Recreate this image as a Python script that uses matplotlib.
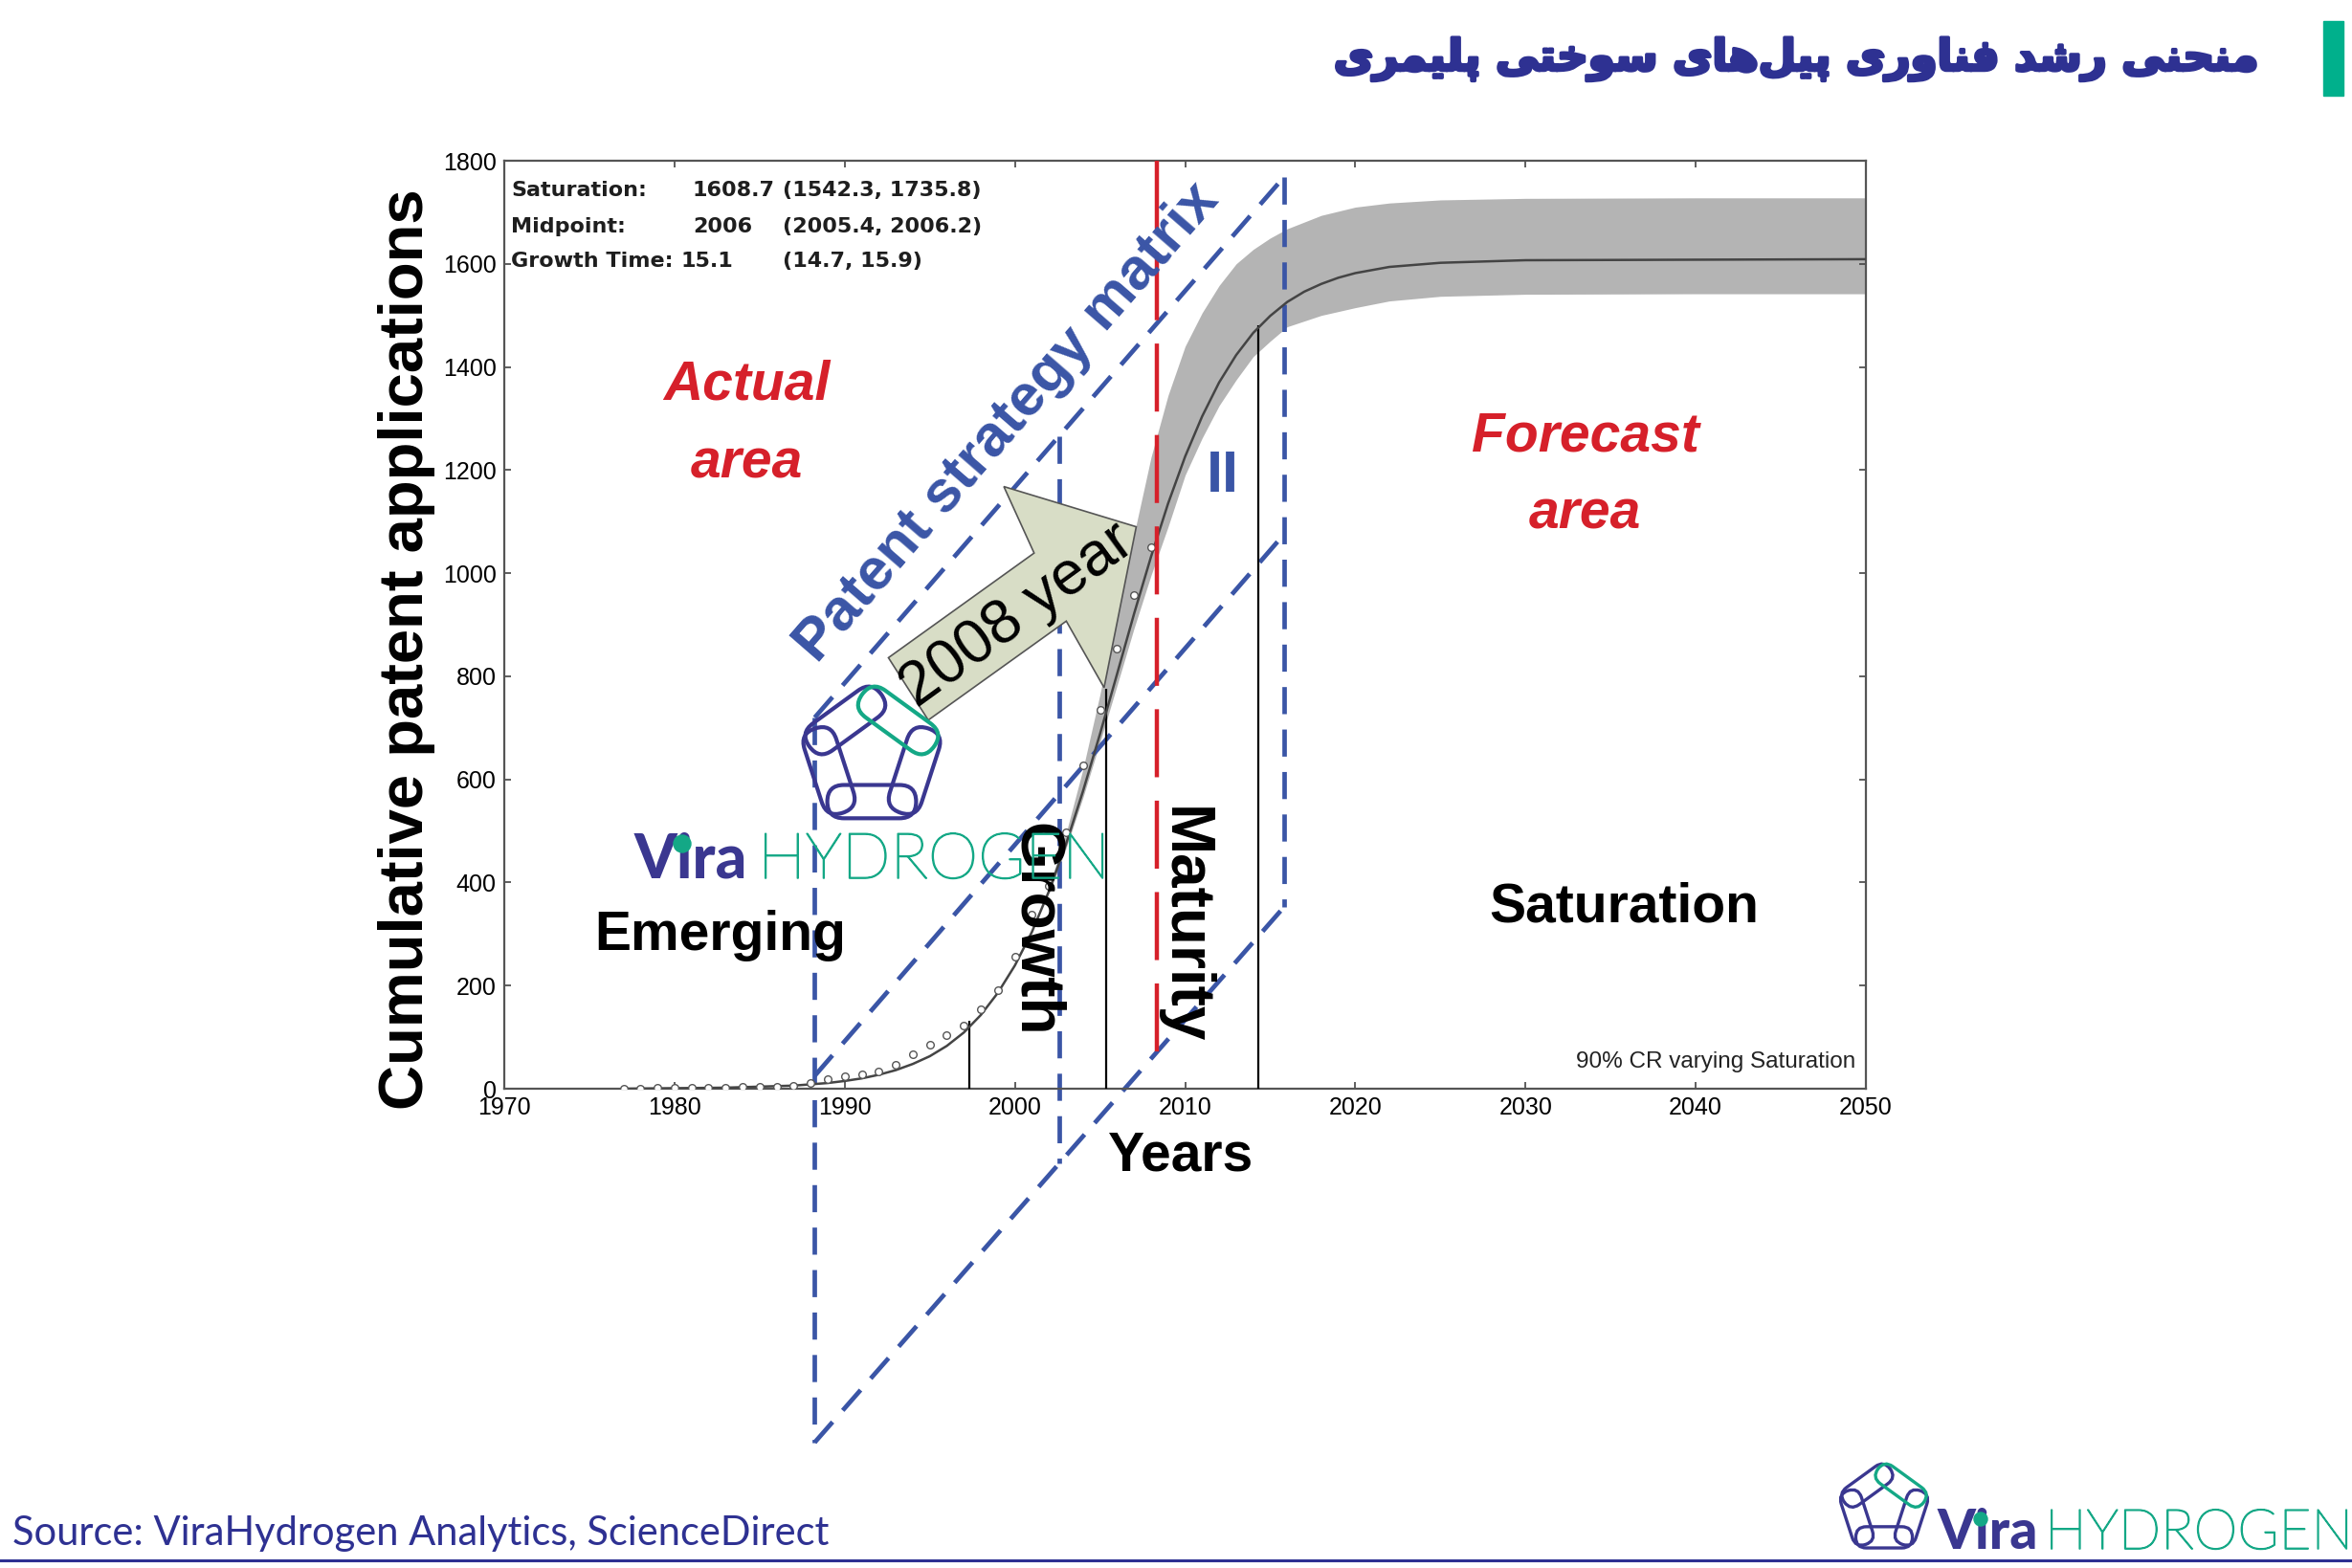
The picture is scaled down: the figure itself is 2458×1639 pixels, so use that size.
import matplotlib
matplotlib.use("Agg")
import math
import matplotlib.pyplot as plt
import matplotlib.patheffects as pe
from matplotlib.patches import Polygon, FancyBboxPatch, Circle
from matplotlib.transforms import Affine2D

# observed cumulative patent applications (open circles)
obs_years = list(range(1977, 2009))
obs_vals = [0, 0, 1, 1, 1, 2, 2, 3, 3, 4, 6, 12, 18, 24, 27, 33, 46, 67, 86, 104,
            123, 154, 191, 256, 337, 393, 497, 627, 735, 853, 958, 1051]

# fitted logistic curve
fit_years = [1977, 1980, 1983, 1985, 1987, 1989] + list(range(1990, 2021)) + [2022, 2025, 2030, 2040, 2050]
fit_vals = [0, 1, 2, 4, 6, 11,
            15, 20, 27, 36, 48, 63, 83, 109, 143, 186,
            239, 304, 383, 474, 577, 688, 804, 921, 1032, 1135,
            1226, 1304, 1370, 1423, 1466, 1499, 1526, 1546, 1561, 1573, 1582,
            1594, 1602, 1607, 1608, 1609]

# 90% confidence band (varying saturation)
band_years = [2002, 2003, 2004, 2005, 2006, 2007, 2008, 2009, 2010, 2011, 2012, 2013,
              2014, 2015, 2016, 2018, 2020, 2022, 2025, 2030, 2040, 2050]
band_lo = [378, 466, 565, 672, 782, 893, 996, 1090, 1190, 1262, 1325, 1375,
           1420, 1450, 1478, 1500, 1515, 1528, 1537, 1541, 1542, 1542]
band_hi = [392, 495, 620, 765, 925, 1075, 1225, 1345, 1440, 1505, 1558, 1600,
           1628, 1650, 1668, 1694, 1710, 1718, 1724, 1727, 1728, 1728]

# stage boundary markers
mark_years = [1997.3, 2005.35, 2014.3]
mark_tops = [132, 775, 1480]

stats_rows = [("Saturation:", "1608.7", "(1542.3, 1735.8)"),
              ("Midpoint:", "2006", "(2005.4, 2006.2)"),
              ("Growth Time:", "15.1", "(14.7, 15.9)")]

title_fa = "منحنی رشد فناوری پیل‌های سوختی پلیمری"
source = "Source: ViraHydrogen Analytics, ScienceDirect"

W, H = 2458, 1639
NAVY = "#2e3192"
GREEN = "#14a886"
LOGO_NAVY = "#3a3790"
BLUE = "#3a55a6"
RED = "#d6202a"
SANS = ["Liberation Sans", "DejaVu Sans"]
BIG = 41  # horizontal stage labels

# --- minimal Persian shaping (matplotlib draws glyphs one by one, left to right)
DUAL = {"\u0645": (0xFEE1, 0xFEE2, 0xFEE3, 0xFEE4), "\u0646": (0xFEE5, 0xFEE6, 0xFEE7, 0xFEE8),
        "\u062D": (0xFEA1, 0xFEA2, 0xFEA3, 0xFEA4), "\u06CC": (0xFBFC, 0xFBFD, 0xFBFE, 0xFBFF),
        "\u0634": (0xFEB5, 0xFEB6, 0xFEB7, 0xFEB8), "\u0641": (0xFED1, 0xFED2, 0xFED3, 0xFED4),
        "\u067E": (0xFB56, 0xFB57, 0xFB58, 0xFB59), "\u0644": (0xFEDD, 0xFEDE, 0xFEDF, 0xFEE0),
        "\u0647": (0xFEE9, 0xFEEA, 0xFEEB, 0xFEEC), "\u0633": (0xFEB1, 0xFEB2, 0xFEB3, 0xFEB4),
        "\u062E": (0xFEA5, 0xFEA6, 0xFEA7, 0xFEA8), "\u062A": (0xFE95, 0xFE96, 0xFE97, 0xFE98)}
RIGHT = {"\u0631": (0xFEAD, 0xFEAE), "\u062F": (0xFEA9, 0xFEAA),
         "\u0627": (0xFE8D, 0xFE8E), "\u0648": (0xFEED, 0xFEEE)}


def shape_fa(s):
    out = []
    for i, ch in enumerate(s):
        forms = DUAL.get(ch) or RIGHT.get(ch)
        if forms is None:
            if ch != "\u200c":
                out.append(ch)
            continue
        prev = s[i - 1] if i > 0 else ""
        nxt = s[i + 1] if i + 1 < len(s) else ""
        jp = prev in DUAL
        jn = ch in DUAL and (nxt in DUAL or nxt in RIGHT)
        if jp and jn:
            c = forms[3]
        elif jp:
            c = forms[1]
        elif jn:
            c = forms[2]
        else:
            c = forms[0]
        out.append(chr(c))
    return "".join(reversed(out))


def fx(px):
    return px / W


def fy(py):
    return 1 - py / H


def chain_icon(fig, cx, cy, R, lw):
    # five rounded links on a pentagon, pixel coords measured from top-left
    cyd = H - cy
    for mid in [126, 198, 270, 342, 54]:
        a = math.radians(mid)
        mx = cx + 0.809 * R * math.cos(a)
        my = cyd + 0.809 * R * math.sin(a)
        L, Wd = 1.6 * R, 0.6 * R
        col = GREEN if mid == 54 else LOGO_NAVY
        p = FancyBboxPatch((mx - L / 2, my - Wd / 2), L, Wd,
                           boxstyle="round,pad=0,rounding_size=%f" % (Wd / 2),
                           fc="none", ec=col, lw=lw,
                           transform=Affine2D().rotate_deg_around(mx, my, mid + 90))
        fig.add_artist(p)


def vira_logo(fig, x_vira, x_hyd, base, s_vira, s_hyd, dot, dot_r):
    fig.text(fx(x_vira), fy(base), "Vira", family="Lato", fontweight="black",
             fontsize=s_vira, color=LOGO_NAVY, va="baseline", ha="left")
    fig.text(fx(x_hyd), fy(base), "HYDROGEN", family="Lato", fontweight="light",
             fontsize=s_hyd, color=GREEN, va="baseline", ha="left",
             path_effects=[pe.withStroke(linewidth=1.1, foreground=GREEN)])
    fig.add_artist(Circle((dot[0], H - dot[1]), dot_r, color=GREEN,
                          transform=Affine2D(), zorder=20))


fig = plt.figure(figsize=(W / 100, H / 100), dpi=100)
fig.patch.set_facecolor("white")
ax = fig.add_axes([527 / W, 1 - 1138 / H, 1423 / W, 970 / H])
ax.set_xlim(1970, 2050)
ax.set_ylim(0, 1800)

ax.fill_between(band_years, band_lo, band_hi, color="#b4b4b4", lw=0, zorder=1)
ax.vlines(mark_years, 0, mark_tops, colors="black", lw=1.6, zorder=3)
ax.plot(fit_years, fit_vals, color="#444444", lw=1.8, zorder=4)
ax.plot(obs_years, obs_vals, "o", ms=5.5, mfc="white", mec="#555555", mew=1.0, zorder=5)

# patent strategy matrix (dashed parallelogram)
x0, x1, x2 = 1988.24, 2002.6, 2015.8
top = (720, 1768)
mid = (25, 1075)
bot = (-686, 352)


def at(edge, x):
    return edge[0] + (edge[1] - edge[0]) * (x - x0) / (x2 - x0)


blue_kw = dict(color=BLUE, lw=3.4, ls=(0, (6.0, 3.4)), clip_on=False, zorder=2)
ax.plot([x0, x0], [top[0], bot[0]], **blue_kw)
ax.plot([x1, x1], [at(top, x1), at(bot, x1)], **blue_kw)
ax.plot([x2, x2], [top[1], bot[1]], **blue_kw)
ax.plot([x0, x2], top, **blue_kw)
ax.plot([x0, x2], mid, **blue_kw)
ax.plot([x0, x2], bot, **blue_kw)

ax.plot([2008.33, 2008.33], [1800, 60], color=RED, lw=3.2, ls=(0, (16, 5.5)), zorder=6)

arrow = [(1992.57, 836), (1994.91, 715), (2003.02, 907), (2005.24, 778),
         (2007.13, 1090), (1999.35, 1168), (2001.13, 1039)]
ax.add_patch(Polygon(arrow, closed=True, fc="#d8ddc6", ec="#555555", lw=1.2, zorder=3.5))
ax.text(2000.13, 918, "2008 year", family=SANS, fontsize=46, rotation=36,
        rotation_mode="anchor", ha="center", va="center", zorder=3.6)

ax.text(1999.6, 1292, "Patent strategy matrix", family=SANS, fontweight="bold",
        fontsize=44, color=BLUE, rotation=49, rotation_mode="anchor",
        ha="center", va="center", zorder=7)

red_kw = dict(family=SANS, fontweight="bold", fontstyle="italic", fontsize=BIG,
              color=RED, ha="center", va="center")
ax.text(1984.26, 1365, "Actual", **red_kw)
ax.text(1984.26, 1213, "area", **red_kw)
ax.text(2033.5, 1265, "Forecast", **red_kw)
ax.text(2033.5, 1114, "area", **red_kw)
ax.text(1982.67, 296, "Emerging", family=SANS, fontweight="bold", fontsize=BIG,
        ha="center", va="center")
ax.text(2035.8, 352, "Saturation", family=SANS, fontweight="bold", fontsize=BIG,
        ha="center", va="center")
ax.text(2001.18, 308, "Growth", family=SANS, fontweight="bold", fontsize=46,
        rotation=-90, ha="center", va="center", zorder=7)
ax.text(2009.9, 317, "Maturity", family=SANS, fontweight="bold", fontsize=46,
        rotation=-90, ha="center", va="center", zorder=7)
ax.text(2012.2, 1187, "II", family=SANS, fontweight="bold", fontsize=44,
        color=BLUE, ha="center", va="center")

ax.text(0.9923, 0.029, "90% CR varying Saturation", family=SANS, fontsize=17.5,
        color="#222222", ha="right", va="center", transform=ax.transAxes)

for i, (lab, val, ci) in enumerate(stats_rows):
    yy = (1138 - [199, 237, 273][i]) / 970
    for xp, s in zip([534, [723, 724, 712][i], 818], [lab, val, ci]):
        ax.text((xp - 527) / 1423, yy, s, family="DejaVu Sans", fontweight="bold",
                fontsize=16, color="#1e1e1e", ha="left", va="center", transform=ax.transAxes)

ax.set_xticks(range(1970, 2051, 10))
ax.set_yticks(range(0, 1801, 200))
ax.tick_params(direction="in", top=True, right=True, length=5, width=1.2,
               color="#444444", labelsize=18, pad=6)
for lab in ax.get_xticklabels() + ax.get_yticklabels():
    lab.set_family(SANS)
for s in ax.spines.values():
    s.set_color("#555555")
    s.set_linewidth(1.6)

ax.set_xlabel("Years", family=SANS, fontweight="bold", fontsize=BIG)
ax.xaxis.set_label_coords(0.4966, -0.0728)
ax.xaxis.label.set_va("center")
ax.set_ylabel("Cumulative patent applications", family=SANS, fontweight="bold", fontsize=47)
ax.yaxis.set_label_coords(-0.0718, 0.4734)
ax.yaxis.label.set_va("center")

# title bar
fig.text(fx(2362), fy(62), shape_fa(title_fa), family="DejaVu Sans", fontweight="bold",
         fontsize=32.5, color=NAVY, ha="right", va="center",
         path_effects=[pe.withStroke(linewidth=2.5, foreground=NAVY)])
fig.add_artist(plt.Rectangle((fx(2428), fy(100)), fx(21), 78 / H, color="#00b08c",
                             transform=fig.transFigure))

# watermark logo over the plot
chain_icon(fig, 911, 791, 58, 3.0)
vira_logo(fig, 663, 792, 918, 46, 48, (713, 882), 9)

# footer
fig.text(fx(13), fy(1603), source, family="Lato", fontsize=30, color=NAVY,
         ha="left", va="center")
fig.add_artist(plt.Line2D([0, 1], [fy(1631), fy(1631)], color=NAVY, lw=2.2,
                          transform=fig.transFigure))
chain_icon(fig, 1969, 1577, 37, 2.4)
vira_logo(fig, 2025, 2137, 1619, 41, 42, (2070, 1588), 7)

fig.savefig("out.png", dpi=100, facecolor="white")
